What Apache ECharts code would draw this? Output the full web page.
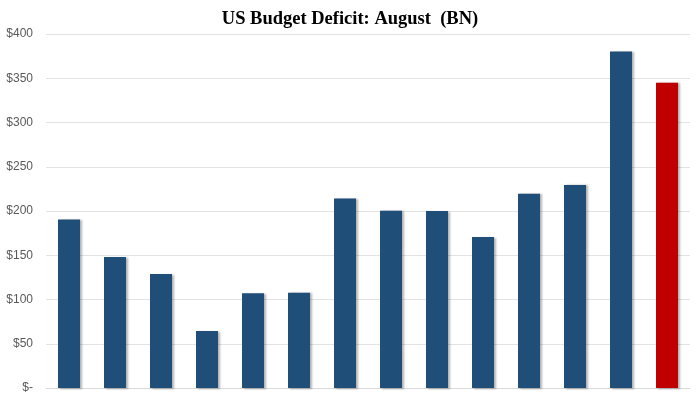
<!DOCTYPE html>
<html>
<head>
<meta charset="utf-8">
<script src="https://cdn.jsdelivr.net/npm/echarts@6/dist/echarts.min.js"></script>
<style>html,body{margin:0;padding:0;background:#fff}#c{width:700px;height:394px}</style>
</head>
<body>
<div id="c"></div>
<script>
const categories = ['2012','2013','2014','2015','2016','2017','2018','2019','2020','2021','2022','2023','2024','2025'];
const deficits = [190.5, 147.9, 128.7, 64.4, 107.1, 107.7, 214.1, 200.3, 200.0, 170.6, 219.6, 229.5, 380.1, 344.8];
const highlightIndex = 13;
const yTicks = { min: 0, max: 400, interval: 50 };

const chart = echarts.init(document.getElementById('c'));
chart.setOption({
  animation: false,
  backgroundColor: '#ffffff',
  title: {
    text: 'US Budget Deficit: August  (BN)',
    left: 'center',
    top: 5,
    textStyle: { fontFamily: 'Liberation Serif', fontWeight: 'bold', fontSize: 18.5, color: '#000' }
  },
  grid: { left: 46, right: 10, top: 34, bottom: 2, containLabel: false },
  xAxis: {
    type: 'category',
    data: categories,
    axisLine: { show: true, lineStyle: { color: '#d9d9d9', width: 1 } },
    axisTick: { show: false },
    axisLabel: { show: false }
  },
  yAxis: {
    type: 'value',
    min: yTicks.min, max: yTicks.max, interval: yTicks.interval,
    axisLine: { show: false },
    axisTick: { show: false },
    splitLine: { lineStyle: { color: '#e3e3e3', width: 1 } },
    axisLabel: {
      margin: 13,
      color: '#595959',
      fontFamily: 'Liberation Sans',
      fontSize: 12,
      formatter: v => v === 0 ? '$-' : '$' + v
    }
  },
  series: [{
    type: 'bar',
    data: deficits.map((v, i) => ({
      value: v,
      itemStyle: { color: i === highlightIndex ? '#c00000' : '#1f4e79' }
    })),
    barWidth: 22,
    itemStyle: {
      shadowColor: 'rgba(0,0,0,0.3)',
      shadowBlur: 2,
      shadowOffsetX: 1.5,
      shadowOffsetY: 0.5
    }
  }]
});
</script>
</body>
</html>
